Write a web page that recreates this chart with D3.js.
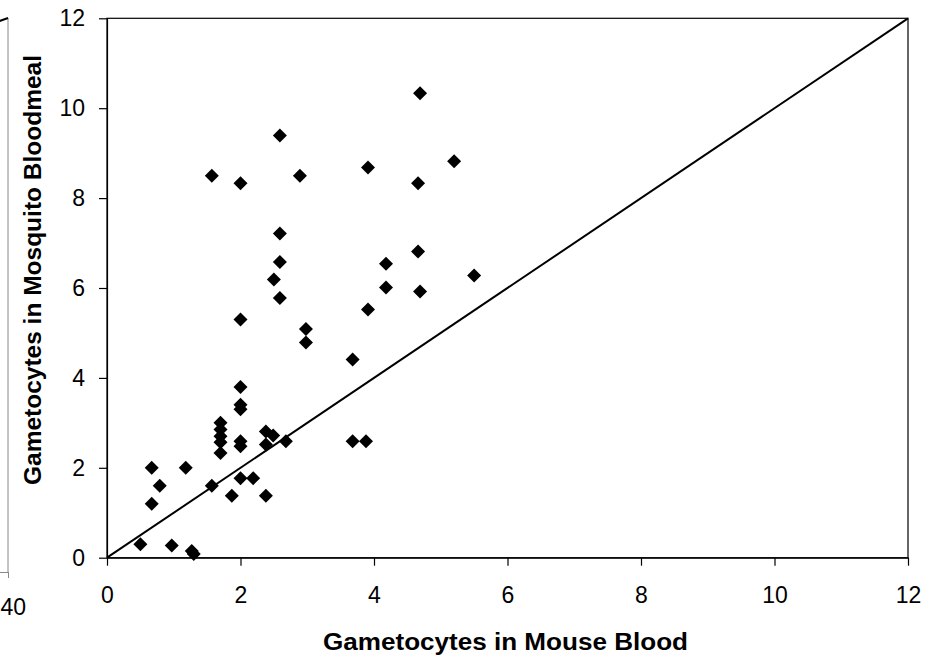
<!DOCTYPE html>
<html>
<head>
<meta charset="utf-8">
<script src="https://cdn.jsdelivr.net/npm/d3@7"></script>
<style>
  html, body { margin: 0; padding: 0; background: #fff; }
  svg { display: block; font-family: "Liberation Sans", Arial, sans-serif; }
</style>
</head>
<body>
<svg id="chart" width="938" height="658"></svg>
<script>
// Gametocyte counts per sample: mouse blood (x) vs. mosquito bloodmeal (y)
const mouseBlood = [
  0.5, 0.97, 1.27, 1.3, 0.67, 0.79, 0.67, 1.18, 1.57,
  1.7, 1.7, 1.7, 1.7, 1.7,
  2.0, 2.0, 2.0, 2.0, 2.0, 1.87, 2.19, 2.38, 2.49, 2.38, 2.68, 2.38,
  2.59, 2.5, 2.59, 2.0, 2.98, 2.98, 2.0, 3.68,
  2.59, 1.57, 2.0, 2.89, 3.91, 2.59,
  4.69, 5.2, 4.66, 4.66, 4.18, 4.18, 4.69, 5.5, 3.91, 3.88, 3.68
];
const bloodmeal = [
  0.3, 0.27, 0.15, 0.08, 2.0, 1.6, 1.2, 2.0, 1.6,
  3.0, 2.85, 2.7, 2.57, 2.33,
  3.4, 3.3, 2.59, 2.48, 1.77, 1.38, 1.77, 2.81, 2.72, 2.52, 2.59, 1.38,
  6.58, 6.19, 5.78, 5.3, 5.09, 4.79, 3.8, 4.41,
  9.39, 8.5, 8.33, 8.5, 8.68, 7.21,
  10.33, 8.82, 8.33, 6.81, 6.54, 6.01, 5.92, 6.28, 5.52, 2.59, 2.59
];
const xTicks = [0, 2, 4, 6, 8, 10, 12];
const yTicks = [0, 2, 4, 6, 8, 10, 12];
const axisMax = 12;
const xTitle = "Gametocytes in Mouse Blood";
const yTitle = "Gametocytes in Mosquito Bloodmeal";
// edge of the neighbouring panel on the left
const neighbourTick = [40];

const svg = d3.select("#chart");
const plot = { left: 107, right: 908, top: 18.3, bottom: 557.7 };

const x = d3.scaleLinear().domain([0, axisMax]).range([plot.left, plot.right]);
const y = d3.scaleLinear().domain([0, axisMax]).range([plot.bottom, plot.top]);

// plot frame
svg.append("rect")
  .attr("x", plot.left).attr("y", plot.top)
  .attr("width", plot.right - plot.left).attr("height", plot.bottom - plot.top)
  .attr("fill", "none").attr("stroke", "#000").attr("stroke-width", 1.2);

// axes
const gx = svg.append("g")
  .attr("transform", `translate(0,${plot.bottom})`)
  .call(d3.axisBottom(x).tickValues(xTicks).tickFormat(d3.format("d"))
    .tickSize(8).tickSizeOuter(0).tickPadding(21));
const gy = svg.append("g")
  .attr("transform", `translate(${plot.left},0)`)
  .call(d3.axisLeft(y).tickValues(yTicks).tickFormat(d3.format("d"))
    .tickSize(8).tickSizeOuter(0).tickPadding(14));
[gx, gy].forEach(g => {
  g.select(".domain").attr("stroke", "#000").attr("stroke-width", 1.2);
  g.selectAll(".tick line").attr("stroke", "#000").attr("stroke-width", 1.2);
  g.selectAll(".tick text").attr("fill", "#000")
    .style("font-size", "23px").style("font-family", "Liberation Sans, Arial, sans-serif");
});

// 1:1 reference line
svg.append("line")
  .attr("x1", x(0)).attr("y1", y(0))
  .attr("x2", x(axisMax)).attr("y2", y(axisMax))
  .attr("stroke", "#000").attr("stroke-width", 2);

// diamond markers
const r = 7;
const diamond = (cx, cy) => `M${cx},${cy - r}L${cx + r},${cy}L${cx},${cy + r}L${cx - r},${cy}Z`;
svg.append("g").selectAll("path")
  .data(d3.zip(mouseBlood, bloodmeal))
  .join("path")
  .attr("d", d => diamond(x(d[0]), y(d[1])))
  .attr("fill", "#000");

// axis titles
svg.append("text")
  .attr("x", (plot.left + plot.right) / 2 - 2).attr("y", 650)
  .attr("text-anchor", "middle")
  .attr("textLength", 365).attr("lengthAdjust", "spacingAndGlyphs")
  .style("font-size", "23.5px").style("font-weight", "bold")
  .text(xTitle);
svg.append("text")
  .attr("transform", `translate(41,270) rotate(-90)`)
  .attr("text-anchor", "middle")
  .attr("textLength", 430).attr("lengthAdjust", "spacingAndGlyphs")
  .style("font-size", "23.5px").style("font-weight", "bold")
  .text(yTitle);

// right edge of the adjacent panel
const nx = d3.scaleLinear().domain([0, 40]).range([-800, 8]);
const ny = d3.scaleLinear().domain([0, 1]).range([572, 18]);
svg.append("line")
  .attr("x1", nx(40)).attr("x2", nx(40)).attr("y1", ny(1)).attr("y2", ny(0))
  .attr("stroke", "#888").attr("stroke-width", 1);
const gn = svg.append("g")
  .attr("transform", `translate(0,${ny(0)})`)
  .call(d3.axisBottom(nx).tickValues(neighbourTick).tickSize(6).tickSizeOuter(0).tickPadding(21));
gn.select(".domain").attr("stroke", "#888");
gn.selectAll(".tick line").attr("stroke", "#888");
gn.selectAll(".tick text").attr("fill", "#000")
  .attr("text-anchor", "start").attr("x", -8)
  .style("font-size", "23px").style("font-family", "Liberation Sans, Arial, sans-serif");
svg.append("line")
  .attr("x1", nx(39)).attr("y1", ny(0.987))
  .attr("x2", nx(40)).attr("y2", ny(1))
  .attr("stroke", "#000").attr("stroke-width", 2);
</script>
</body>
</html>
